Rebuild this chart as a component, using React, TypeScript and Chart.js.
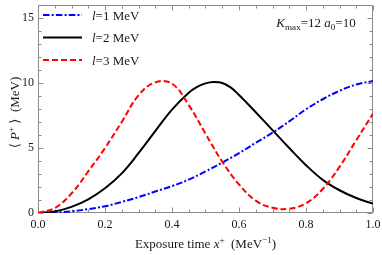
import React, { useEffect, useRef } from "react";
import { Chart, registerables } from "chart.js";

Chart.register(...registerables);

// ---- data ----
const xGrid = [0, 0.05, 0.1, 0.15, 0.2, 0.25, 0.3, 0.35, 0.4, 0.45, 0.5, 0.55, 0.6, 0.65, 0.7, 0.75, 0.8, 0.85, 0.9, 0.95, 1.0];
const blueY = [0, 0.03, 0.13, 0.3, 0.52, 0.85, 1.22, 1.65, 2.07, 2.57, 3.2, 3.88, 4.6, 5.4, 6.18, 7.05, 7.98, 8.75, 9.4, 9.88, 10.15];
const blackX = [0, 0.05, 0.1, 0.15, 0.2, 0.25, 0.3, 0.35, 0.4, 0.45, 0.475, 0.5, 0.525, 0.55, 0.575, 0.6, 0.625, 0.65, 0.7, 0.75, 0.8, 0.85, 0.9, 0.95, 1.0];
const blackY = [0, 0.12, 0.47, 1.05, 1.9, 3.05, 4.6, 6.3, 7.95, 9.25, 9.7, 9.97, 10.07, 10.0, 9.66, 9.08, 8.42, 7.75, 6.38, 5.0, 3.68, 2.55, 1.75, 1.15, 0.72];
const redY = [0, 0.38, 1.5, 3.2, 5.0, 7.0, 9.05, 10.05, 9.95, 8.3, 6.1, 3.95, 2.2, 0.95, 0.4, 0.33, 0.75, 1.85, 3.55, 5.6, 7.65];

const legendValues = ["1", "2", "3"];
const xTickStep = 0.2;
const xMinorStep = 0.05;
const yTickStep = 5;
const yMinorStep = 1;

const SERIF = "'Liberation Serif', 'DejaVu Serif', serif";
const FRAME = "#8c8c8c";
const TEXT = "#1a1a1a";

type Seg = { t: string; it?: boolean; s?: "sup" | "sub" };

function drawRich(ctx: CanvasRenderingContext2D, segs: Seg[], x: number, y: number, size: number, align: "left" | "center") {
  const fontFor = (sg: Seg) => {
    const sz = sg.s ? size * 0.7 : size;
    return `${sg.it ? "italic " : ""}${sz}px ${SERIF}`;
  };
  let total = 0;
  const widths = segs.map((sg) => {
    ctx.font = fontFor(sg);
    const w = ctx.measureText(sg.t).width;
    total += w;
    return w;
  });
  let cx = align === "center" ? x - total / 2 : x;
  ctx.textBaseline = "alphabetic";
  ctx.textAlign = "left";
  segs.forEach((sg, i) => {
    ctx.font = fontFor(sg);
    let dy = 0;
    if (sg.s === "sup") dy = -size * 0.38;
    if (sg.s === "sub") dy = size * 0.22;
    ctx.fillText(sg.t, cx, y + dy);
    cx += widths[i];
  });
}

const framePlugin = {
  id: "frameTicks",
  beforeDatasetsDraw(chart: any) {
    const { ctx, chartArea: a, scales } = chart;
    const xs = scales.x;
    const ys = scales.y;
    ctx.save();
    ctx.strokeStyle = FRAME;
    ctx.lineWidth = 1;
    const L = Math.round(a.left) + 0.5;
    const R = Math.round(a.right) - 0.5;
    const T = Math.round(a.top) + 0.5;
    const B = Math.round(a.bottom) - 0.5;
    ctx.beginPath();
    ctx.rect(L, T, R - L, B - T);
    ctx.stroke();
    ctx.beginPath();
    for (let v = 0; v <= 1.0001; v += xMinorStep) {
      const isMajor = Math.abs(v / xTickStep - Math.round(v / xTickStep)) < 1e-6;
      const len = isMajor ? 5 : 3;
      const px = Math.round(xs.getPixelForValue(v)) + 0.5;
      ctx.moveTo(px, B);
      ctx.lineTo(px, B - len);
      ctx.moveTo(px, T);
      ctx.lineTo(px, T + len);
    }
    for (let v = 0; v <= 16.0001; v += yMinorStep) {
      const isMajor = Math.abs(v / yTickStep - Math.round(v / yTickStep)) < 1e-6;
      const len = isMajor ? 5 : 3;
      const py = Math.round(ys.getPixelForValue(v)) + 0.5;
      ctx.moveTo(L, py);
      ctx.lineTo(L + len, py);
      ctx.moveTo(R, py);
      ctx.lineTo(R - len, py);
    }
    ctx.stroke();
    ctx.restore();
  },
  afterDraw(chart: any) {
    const { ctx, chartArea: a } = chart;
    ctx.save();
    ctx.fillStyle = TEXT;
    // legend
    const order = [2, 1, 0];
    order.forEach((di, row) => {
      const ds = chart.data.datasets[di];
      const yy = 15 + row * 22.5;
      ctx.save();
      ctx.strokeStyle = ds.borderColor;
      ctx.lineWidth = 2;
      ctx.setLineDash(ds.borderDash || []);
      ctx.beginPath();
      ctx.moveTo(43, yy);
      ctx.lineTo(82, yy);
      ctx.stroke();
      ctx.restore();
      drawRich(ctx, [{ t: "l", it: true }, { t: `=${legendValues[row]} MeV` }], 92, yy + 4.5, 13, "left");
    });
    // annotation
    drawRich(
      ctx,
      [
        { t: "K", it: true },
        { t: "max", s: "sub" },
        { t: "=12 " },
        { t: "a", it: true },
        { t: "0", s: "sub" },
        { t: "=10" },
      ],
      316,
      27,
      13,
      "center"
    );
    // x title
    drawRich(
      ctx,
      [
        { t: "Exposure time " },
        { t: "x", it: true },
        { t: "+", s: "sup" },
        { t: "  (MeV" },
        { t: "\u22121", s: "sup" },
        { t: ")" },
      ],
      (a.left + a.right) / 2,
      248,
      13,
      "center"
    );
    // y title
    ctx.save();
    ctx.translate(18.5, 112.5);
    ctx.rotate(-Math.PI / 2);
    drawRich(
      ctx,
      [{ t: "\u27E8 " }, { t: "P", it: true }, { t: "+", s: "sup" }, { t: " \u27E9  (MeV)" }],
      0,
      0,
      13,
      "center"
    );
    ctx.restore();
    ctx.restore();
  },
};

export default function App() {
  const ref = useRef<HTMLCanvasElement | null>(null);
  useEffect(() => {
    document.body.style.margin = "0";
    if (!ref.current) return;
    const toPts = (xs: number[], ys: number[]) => xs.map((x, i) => ({ x, y: ys[i] }));
    const common = { borderWidth: 2, pointRadius: 0, fill: false, tension: 0.4 };
    const chart = new Chart(ref.current, {
      type: "line",
      data: {
        datasets: [
          {
            label: "l=3 MeV",
            data: toPts(xGrid, redY),
            borderColor: "rgb(255,0,0)",
            borderDash: [6, 3],
            ...common,
          },
          {
            label: "l=2 MeV",
            data: toPts(blackX, blackY),
            borderColor: "rgb(0,0,0)",
            ...common,
          },
          {
            label: "l=1 MeV",
            data: toPts(xGrid, blueY),
            borderColor: "rgb(0,0,255)",
            borderDash: [6.5, 2.2, 2, 2.2],
            ...common,
          },
        ],
      },
      options: {
        animation: false,
        responsive: false,
        maintainAspectRatio: false,
        layout: { padding: { left: 0, top: 5, right: 9, bottom: 0 } },
        plugins: {
          legend: { display: false },
          tooltip: { enabled: false },
          title: { display: false },
        },
        elements: { point: { radius: 0 } },
        scales: {
          x: {
            type: "linear",
            min: 0,
            max: 1,
            grid: { display: false, drawTicks: false },
            border: { display: false },
            ticks: {
              stepSize: xTickStep,
              includeBounds: false,
              autoSkip: false,
              maxRotation: 0,
              padding: 5,
              color: TEXT,
              font: { family: SERIF, size: 12 },
              callback: (v: any) => Number(v).toFixed(1),
            },
            afterFit: (s: any) => {
              s.height = 42;
              s.paddingLeft = 0;
              s.paddingRight = 0;
            },
          },
          y: {
            type: "linear",
            min: 0,
            max: 16,
            grid: { display: false, drawTicks: false },
            border: { display: false },
            ticks: {
              stepSize: yTickStep,
              includeBounds: false,
              autoSkip: false,
              padding: 4,
              color: TEXT,
              font: { family: SERIF, size: 12 },
              callback: (v: any) => String(Math.round(Number(v))),
            },
            afterFit: (s: any) => {
              s.width = 38;
              s.paddingTop = 0;
              s.paddingBottom = 0;
            },
          },
        },
      },
      plugins: [framePlugin],
    });
    return () => chart.destroy();
  }, []);
  return (
    <canvas
      ref={ref}
      width={382}
      height={255}
      style={{ display: "block", position: "absolute", left: 0, top: 0, width: 382, height: 255 }}
    />
  );
}
